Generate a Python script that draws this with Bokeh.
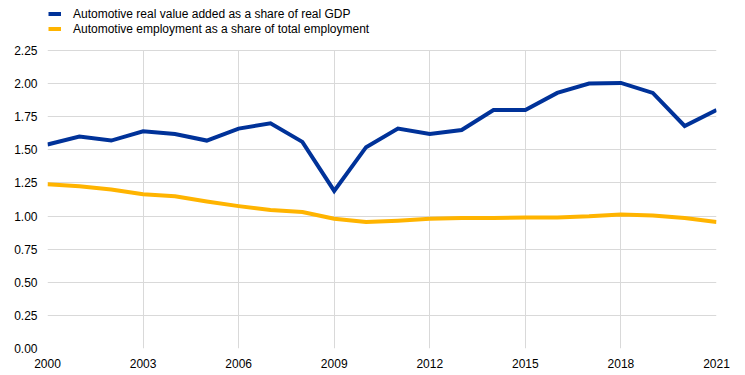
from bokeh.plotting import figure
from bokeh.models import FixedTicker, Legend, LegendItem, NumeralTickFormatter, Range1d
from bokeh.embed import file_html
from bokeh.resources import INLINE

years = list(range(2000, 2022))
value_added = [1.54, 1.60, 1.57, 1.64, 1.62, 1.57, 1.66, 1.70, 1.56, 1.19, 1.52,
               1.66, 1.62, 1.65, 1.80, 1.80, 1.93, 2.00, 2.005, 1.93, 1.68, 1.80]
employment = [1.24, 1.225, 1.20, 1.165, 1.15, 1.11, 1.075, 1.045, 1.03, 0.98, 0.955,
              0.965, 0.98, 0.985, 0.985, 0.99, 0.99, 0.998, 1.012, 1.005, 0.985, 0.955]
x_ticks = [2000, 2003, 2006, 2009, 2012, 2015, 2018, 2021]
y_ticks = [0, 0.25, 0.5, 0.75, 1.0, 1.25, 1.5, 1.75, 2.0, 2.25]
labels = ["Automotive real value added as a share of real GDP",
          "Automotive employment as a share of total employment"]

BLUE = "#003299"
YELLOW = "#FFB400"
GRID = "#d9d9d9"
FONT = "Liberation Sans"

W, H = 737, 373
TOP_PAD = 50          # space above the 2.25 line, reserved for the legend
BOTTOM = 25
frame_h = H - BOTTOM
y_top = y_ticks[-1] * frame_h / (frame_h - TOP_PAD)

p = figure(width=W, height=H, output_backend="svg", toolbar_location=None,
           x_range=Range1d(years[0], years[-1]), y_range=Range1d(0, y_top),
           min_border_left=47, min_border_right=21, min_border_top=0, min_border_bottom=BOTTOM)
p.outline_line_color = None

p.ygrid.grid_line_color = GRID
p.xgrid.grid_line_color = GRID
p.xgrid.ticker = FixedTicker(ticks=x_ticks)
if "cross_bounds" in p.xgrid[0].properties():
    p.xgrid.cross_bounds = (y_ticks[0], y_ticks[-1])
else:
    p.xgrid.grid_line_color = None
    p.segment(x0=x_ticks, y0=[y_ticks[0]] * len(x_ticks), x1=x_ticks,
              y1=[y_ticks[-1]] * len(x_ticks), line_color=GRID, line_width=1)

r1 = p.line(years, value_added, line_color=BLUE, line_width=4, line_join="miter")
r2 = p.line(years, employment, line_color=YELLOW, line_width=4, line_join="round")

for ax in (p.xaxis[0], p.yaxis[0]):
    ax.axis_line_color = None
    ax.major_tick_line_color = None
    ax.minor_tick_line_color = None
    ax.major_tick_out = 0
    ax.major_tick_in = 0
    ax.major_label_text_font = FONT
    ax.major_label_text_font_size = "12px"
    ax.major_label_text_color = "#000000"

p.xaxis.ticker = FixedTicker(ticks=x_ticks)
p.xaxis.major_label_standoff = 10
p.yaxis.ticker = FixedTicker(ticks=y_ticks)
p.yaxis.formatter = NumeralTickFormatter(format="0.00")
p.yaxis.major_label_standoff = 10

legend = Legend(items=[LegendItem(label=labels[0], renderers=[r1]),
                       LegendItem(label=labels[1], renderers=[r2])],
                location=(1, frame_h - 6 - 30), orientation="vertical",
                border_line_color=None, background_fill_alpha=0,
                label_text_font=FONT, label_text_font_size="12px", label_text_color="#000000",
                glyph_width=13, glyph_height=15, label_height=15, label_standoff=12,
                spacing=0, padding=0, margin=0)
p.add_layout(legend)

open("out.html", "w").write(file_html(p, INLINE))
